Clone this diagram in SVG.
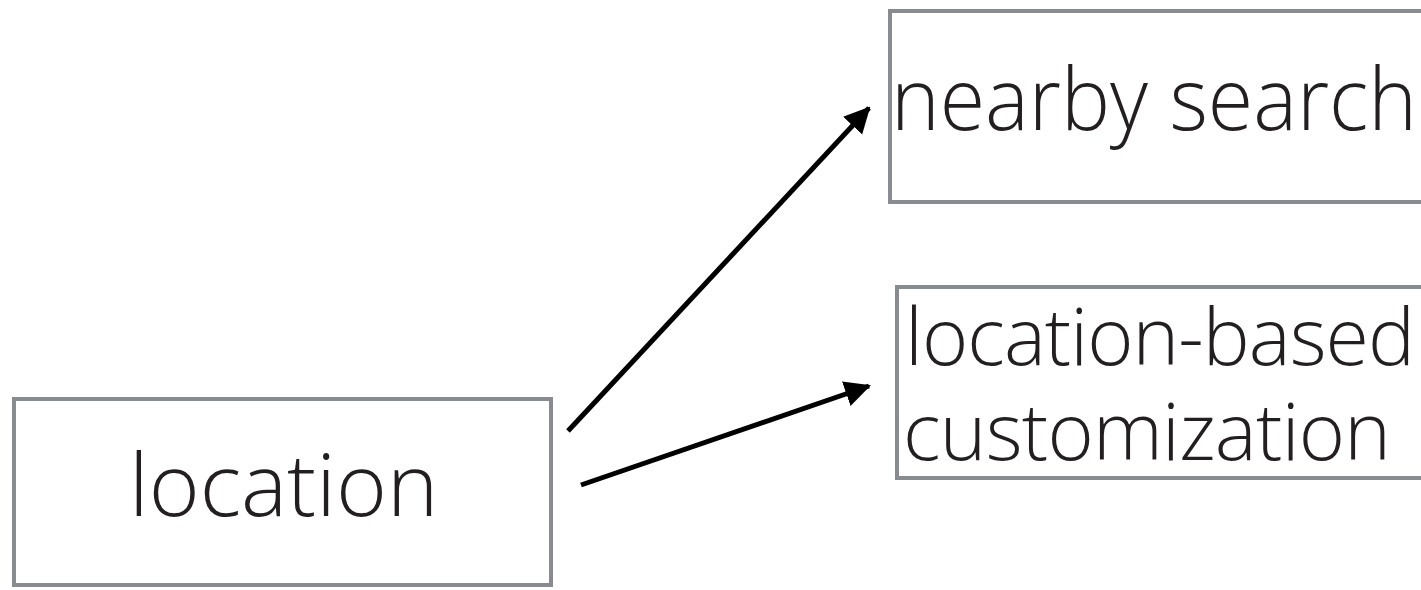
<svg xmlns="http://www.w3.org/2000/svg" width="1421" height="590" viewBox="0 0 1421 590">
  <defs>
    <style>
      .box { fill: #ffffff; stroke: #888b8f; stroke-width: 4; }
      .label { font-family: "Open Sans", "Noto Sans", "Liberation Sans", sans-serif; font-weight: 300; fill: #231f20; }
      .big { font-size: 87px; }
      .small { font-size: 79px; }
      .edge { stroke: #000000; stroke-width: 5; fill: none; }
    </style>
    <marker id="arrowhead" markerUnits="userSpaceOnUse" markerWidth="26" markerHeight="28" viewBox="0 0 26 28" refX="24" refY="14" orient="auto">
      <path d="M0,1 L26,14 L0,27 Z" fill="#000000"/>
    </marker>
  </defs>
  <rect width="1421" height="590" fill="#ffffff"/>

  <g id="node-location">
    <rect class="box" x="14" y="399" width="537" height="186"/>
    <text class="label big" x="129" y="516">location</text>
  </g>

  <g id="node-nearby-search">
    <rect class="box" x="890" y="11" width="540" height="191"/>
    <text class="label big" x="891" y="130" textLength="526" lengthAdjust="spacingAndGlyphs">nearby search</text>
  </g>

  <g id="node-location-based">
    <rect class="box" x="897" y="287" width="540" height="191"/>
    <text class="label small" x="905" y="365" textLength="510" lengthAdjust="spacing">location-based</text>
    <text class="label small" x="903" y="460" textLength="488" lengthAdjust="spacing">customization</text>
  </g>

  <g id="connectors">
    <line class="edge" x1="568" y1="431" x2="869" y2="108" marker-end="url(#arrowhead)"/>
    <line class="edge" x1="581" y1="485" x2="869" y2="386" marker-end="url(#arrowhead)"/>
  </g>
</svg>
